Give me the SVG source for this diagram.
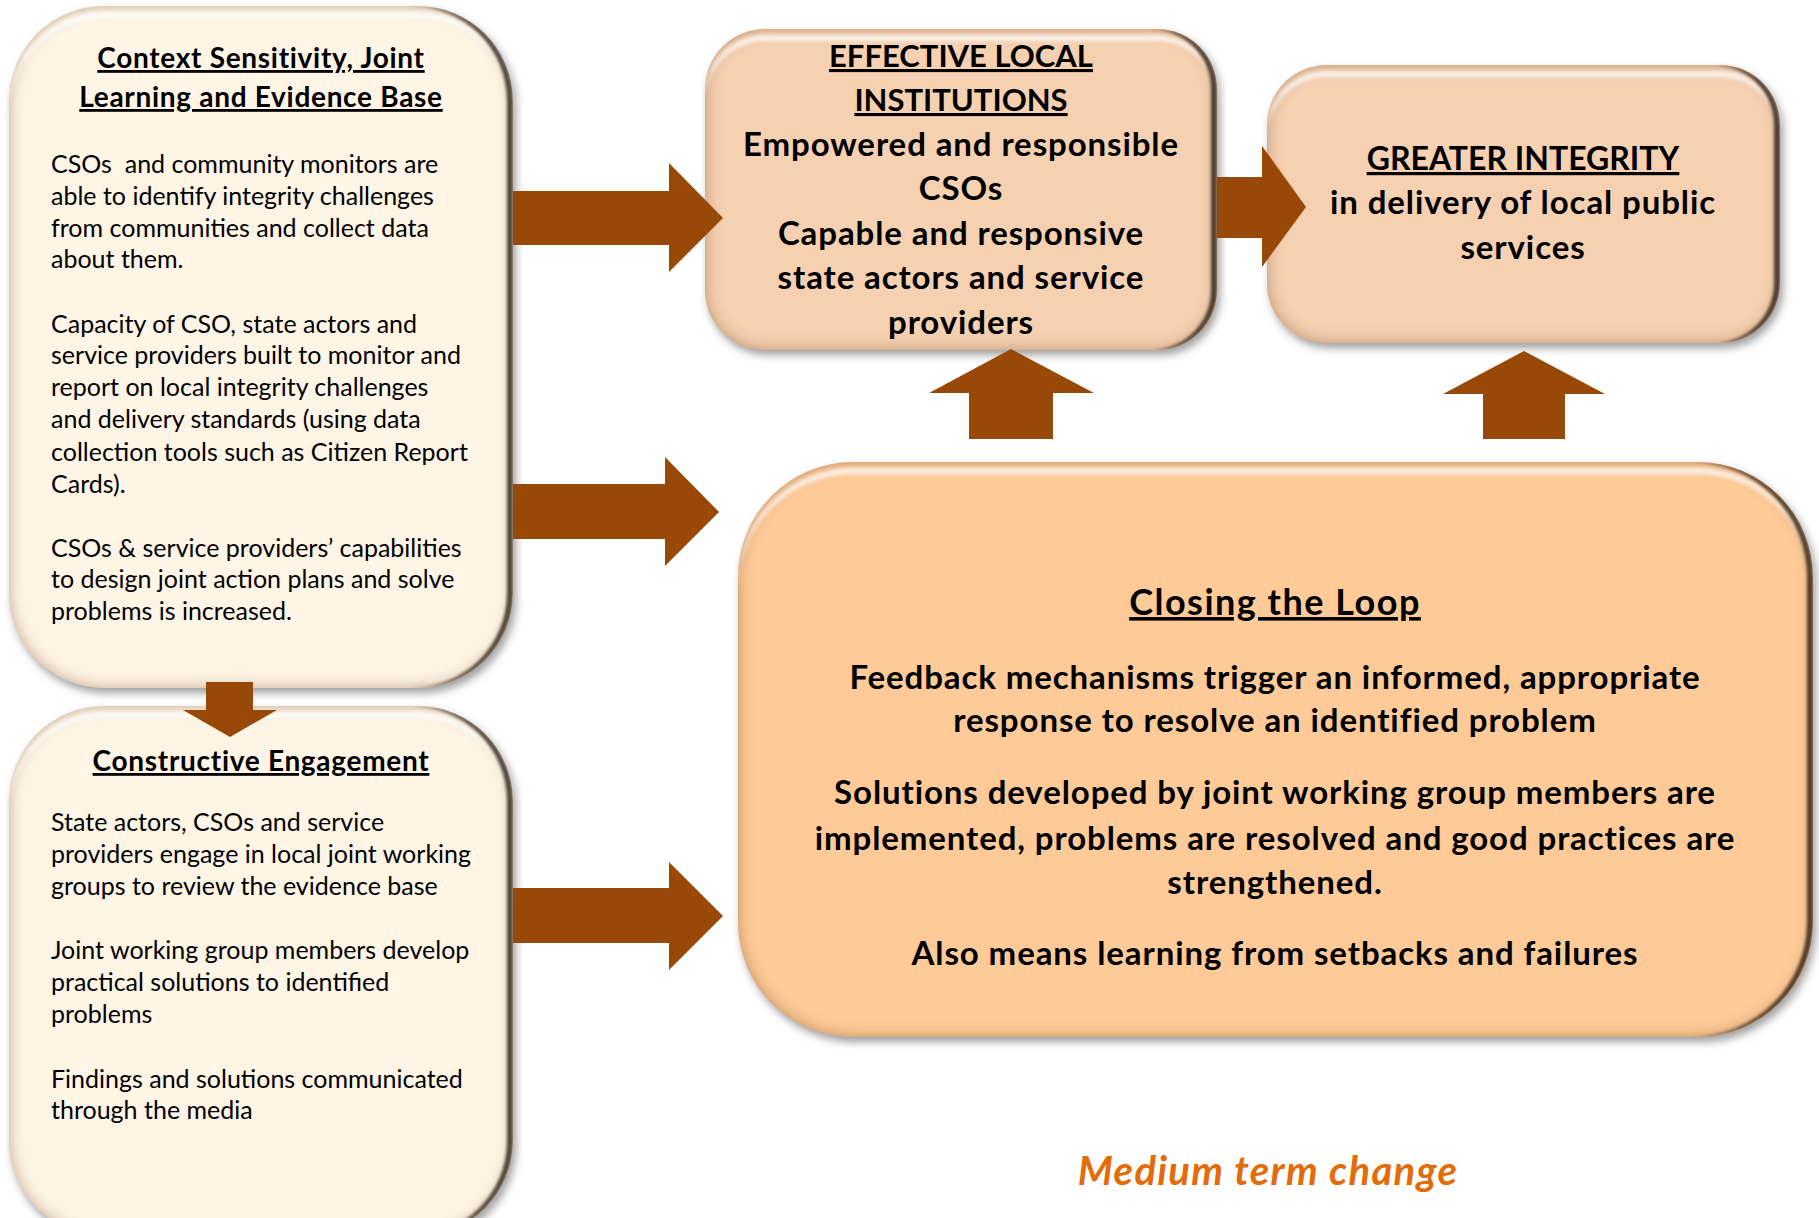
<svg xmlns="http://www.w3.org/2000/svg" width="1819" height="1218" viewBox="0 0 1819 1218">
  <defs>
    <filter id="bevel" x="-4%" y="-4%" width="110%" height="110%" color-interpolation-filters="sRGB">
      <feGaussianBlur in="SourceAlpha" stdDeviation="4" result="sb"/>
      <feOffset in="sb" dx="3" dy="5" result="so"/>
      <feFlood flood-color="#000" flood-opacity="0.38"/>
      <feComposite in2="so" operator="in" result="shadow"/>
      <feGaussianBlur in="SourceAlpha" stdDeviation="8" result="ib"/>
      <feComposite in="SourceAlpha" in2="ib" operator="out" result="rim"/>
      <feFlood flood-color="#7a4a20" flood-opacity="0.45"/>
      <feComposite in2="rim" operator="in" result="rimc"/>
      <feOffset in="SourceAlpha" dx="0" dy="6" result="d5"/>
      <feOffset in="SourceAlpha" dx="0" dy="12" result="d11"/>
      <feComposite in="d5" in2="d11" operator="out" result="band"/>
      <feComposite in="band" in2="SourceAlpha" operator="in" result="band2"/>
      <feGaussianBlur in="band2" stdDeviation="2" result="bandb"/>
      <feFlood flood-color="#ffffff" flood-opacity="0.8"/>
      <feComposite in2="bandb" operator="in" result="hl"/>
      <feOffset in="SourceAlpha" dx="-6" dy="0" result="l5"/>
      <feComposite in="SourceAlpha" in2="l5" operator="out" result="re"/>
      <feGaussianBlur in="re" stdDeviation="1.5" result="reb"/>
      <feComposite in="reb" in2="SourceAlpha" operator="in" result="reb2"/>
      <feFlood flood-color="#1e120a" flood-opacity="0.75"/>
      <feComposite in2="reb2" operator="in" result="rdark"/>
      <feMerge>
        <feMergeNode in="shadow"/>
        <feMergeNode in="SourceGraphic"/>
        <feMergeNode in="rimc"/>
        <feMergeNode in="hl"/>
        <feMergeNode in="rdark"/>
      </feMerge>
    </filter>
    <style>
      .cream { fill: #FEF5E6; filter: url(#bevel); }
      .peach { fill: #F5D0B1; filter: url(#bevel); }
      .orange { fill: #FDCA98; filter: url(#bevel); }
      .arrow { fill: #984807; }
      text { font-family: Lato, "Liberation Sans", sans-serif; fill: #000; }
      .ttl { font-weight: bold; font-size: 28px; letter-spacing: 0.7px; text-anchor: middle; text-decoration: underline; }
      .body { font-size: 25px; }
      .hd { font-weight: bold; font-size: 33px; letter-spacing: 0.9px; text-anchor: middle; }
      .cap { font-weight: bold; font-size: 31px; text-anchor: middle; text-decoration: underline; }
      .cap2 { font-weight: bold; font-size: 32px; text-anchor: middle; text-decoration: underline; }
      .ct { font-weight: bold; font-size: 36px; letter-spacing: 1.5px; text-anchor: middle; text-decoration: underline; }
      .cb { font-weight: bold; font-size: 33px; letter-spacing: 0.9px; text-anchor: middle; }
      .term { font-weight: bold; font-style: italic; font-size: 40px; letter-spacing: 1.3px; fill: #E36C09; text-anchor: middle; }
    </style>
  </defs>
  <rect width="1819" height="1218" fill="#ffffff"/>

  <g id="context-sensitivity">
    <rect class="cream" x="9" y="6" width="504" height="682" rx="95" ry="95"/>
    <text class="ttl" x="261" y="68">Context Sensitivity, Joint</text>
    <text class="ttl" x="261" y="107">Learning and Evidence Base</text>
    <text class="body" x="51" y="173" xml:space="preserve">CSOs  and community monitors are</text>
    <text class="body" x="51" y="205">able to identify integrity challenges</text>
    <text class="body" x="51" y="237">from communities and collect data</text>
    <text class="body" x="51" y="268">about them.</text>
    <text class="body" x="51" y="333">Capacity of CSO, state actors and</text>
    <text class="body" x="51" y="364">service providers built to monitor and</text>
    <text class="body" x="51" y="396">report on local integrity challenges</text>
    <text class="body" x="51" y="428">and delivery standards (using data</text>
    <text class="body" x="51" y="461">collection tools such as Citizen Report</text>
    <text class="body" x="51" y="493">Cards).</text>
    <text class="body" x="51" y="557">CSOs &amp; service providers’ capabilities</text>
    <text class="body" x="51" y="588">to design joint action plans and solve</text>
    <text class="body" x="51" y="620">problems is increased.</text>
  </g>

  <g id="constructive-engagement">
    <rect class="cream" x="9" y="706" width="504" height="530" rx="95" ry="95"/>
    <text class="ttl" x="261" y="771">Constructive Engagement</text>
    <text class="body" x="51" y="831">State actors, CSOs and service</text>
    <text class="body" x="51" y="863">providers engage in local joint working</text>
    <text class="body" x="51" y="895">groups to review the evidence base</text>
    <text class="body" x="51" y="959">Joint working group members develop</text>
    <text class="body" x="51" y="991">practical solutions to identified</text>
    <text class="body" x="51" y="1023">problems</text>
    <text class="body" x="51" y="1088">Findings and solutions communicated</text>
    <text class="body" x="51" y="1119">through the media</text>
  </g>

  <g id="effective-local-institutions">
    <rect class="peach" x="705" y="29" width="512" height="321" rx="60" ry="60"/>
    <text class="cap" x="961" y="67">EFFECTIVE LOCAL</text>
    <text class="cap" x="961" y="111">INSTITUTIONS</text>
    <text class="hd" x="961" y="156">Empowered and responsible</text>
    <text class="hd" x="961" y="200">CSOs</text>
    <text class="hd" x="961" y="245">Capable and responsive</text>
    <text class="hd" x="961" y="289">state actors and service</text>
    <text class="hd" x="961" y="334">providers</text>
  </g>

  <g id="greater-integrity">
    <rect class="peach" x="1267" y="65" width="513" height="278" rx="60" ry="60"/>
    <text class="cap2" x="1523" y="170">GREATER INTEGRITY</text>
    <text class="hd" x="1523" y="214">in delivery of local public</text>
    <text class="hd" x="1523" y="259">services</text>
  </g>

  <g id="closing-the-loop">
    <rect class="orange" x="738" y="462" width="1075" height="575" rx="115" ry="115"/>
    <text class="ct" x="1275" y="615">Closing the Loop</text>
    <text class="cb" x="1275" y="689">Feedback mechanisms trigger an informed, appropriate</text>
    <text class="cb" x="1275" y="732">response to resolve an identified problem</text>
    <text class="cb" x="1275" y="804">Solutions developed by joint working group members are</text>
    <text class="cb" x="1275" y="850">implemented, problems are resolved and good practices are</text>
    <text class="cb" x="1275" y="894">strengthened.</text>
    <text class="cb" x="1275" y="965">Also means learning from setbacks and failures</text>
  </g>

  <g id="medium-term-label">
    <text class="term" x="1268" y="1185">Medium term change</text>
  </g>

  <g id="connectors">
    <polygon class="arrow" points="513,191 669,191 669,163 723,218 669,272 669,245 513,245"/>
    <polygon class="arrow" points="513,484 665,484 665,457 719,512 665,566 665,539 513,539"/>
    <polygon class="arrow" points="513,888 669,888 669,862 723,916 669,970 669,943 513,943"/>
    <polygon class="arrow" points="1217,177 1262,177 1262,146 1306,207 1262,267 1262,238 1217,238"/>
    <polygon class="arrow" points="206,682 253,682 253,710 277,710 230,737 183,710 206,710"/>
    <polygon class="arrow" points="969,439 969,393 929,393 1011,349 1094,393 1053,393 1053,439"/>
    <polygon class="arrow" points="1483,439 1483,394 1443,394 1524,351 1605,394 1565,394 1565,439"/>
  </g>
</svg>
